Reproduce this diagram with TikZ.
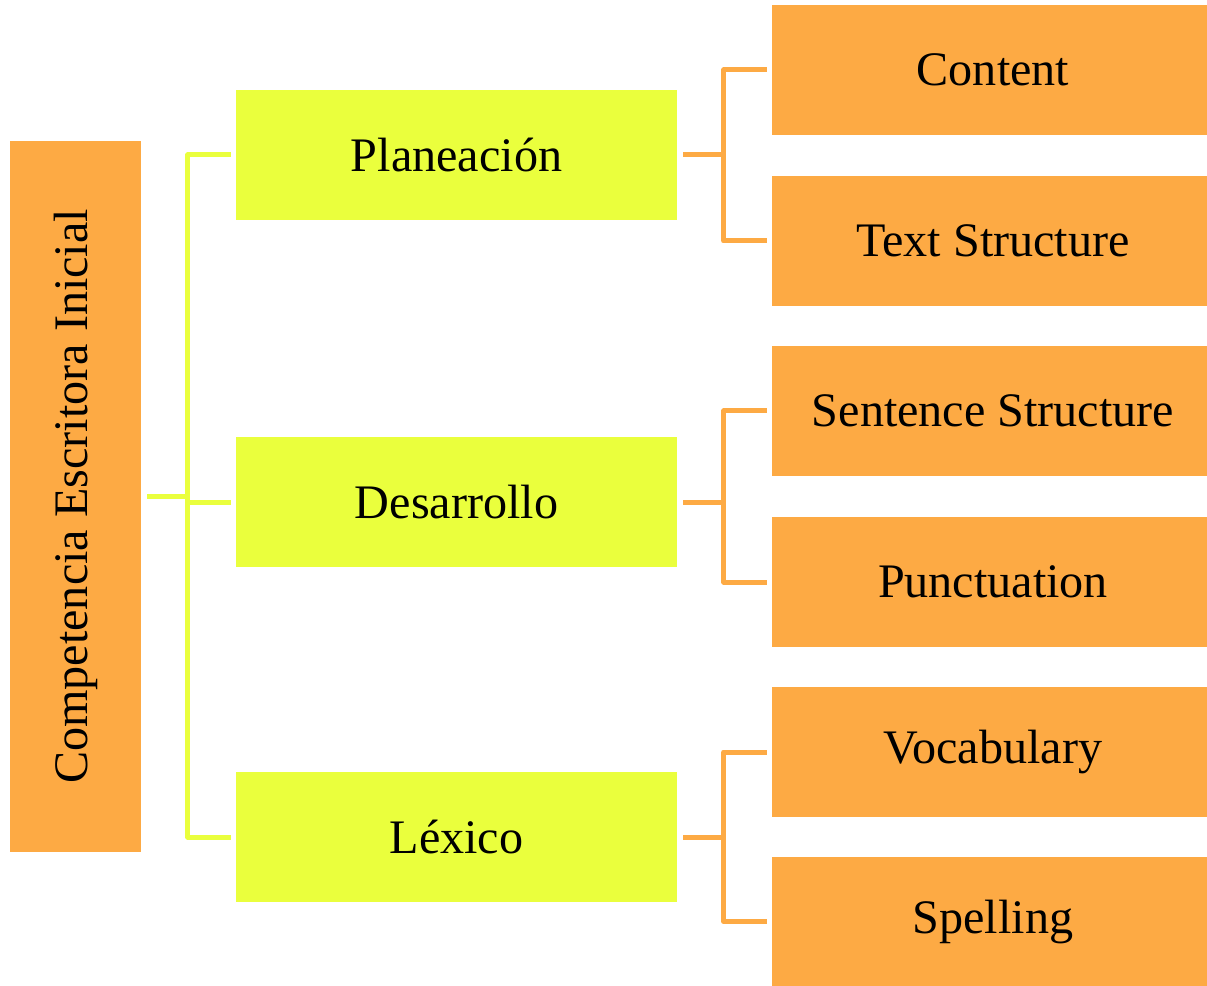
\documentclass[tikz,border=0pt]{standalone}
\usepackage{fontspec}
\setmainfont{Liberation Serif}
\usepackage{tikz}
\usetikzlibrary{positioning,calc}
\definecolor{boxorange}{RGB}{253,170,68}
\definecolor{boxyellow}{RGB}{234,255,61}

\begin{document}
\begin{tikzpicture}[x=0.02cm,y=-0.02cm,
    rootbox/.style={fill=boxorange, minimum width=14.22cm, minimum height=2.62cm, inner sep=0pt, rotate=90, font=\fontsize{27.4}{32}\selectfont},
    midbox/.style={fill=boxyellow, minimum width=8.82cm, minimum height=2.6cm, inner sep=0pt, font=\fontsize{27.4}{32}\selectfont},
    leafbox/.style={fill=boxorange, minimum width=8.7cm, minimum height=2.6cm, inner sep=0pt, font=\fontsize{27.4}{32}\selectfont},
    ylink/.style={draw=boxyellow, line width=0.1cm, line join=round},
    olink/.style={draw=boxorange, line width=0.1cm, line join=round}]
    \useasboundingbox (0,0) rectangle (1207,986);
    % left column
    \node[rootbox] (root) at (75.5,496.5) {Competencia Escritora Inicial};
    % middle column
    \node[midbox] (plan) at (456.5,155) {Planeación};
    \node[midbox] (des) at (456.5,502) {Desarrollo};
    \node[midbox] (lex) at (456.5,837) {Léxico};
    % right column
    \node[leafbox] (cont) at (989.5,70) {\hspace*{4pt}Content};
    \node[leafbox] (tstr) at (989.5,241) {\hspace*{4pt}Text Structure};
    \node[leafbox] (sstr) at (989.5,411) {\hspace*{4pt}Sentence Structure};
    \node[leafbox] (punc) at (989.5,582) {\hspace*{4pt}Punctuation};
    \node[leafbox] (voc) at (989.5,752) {\hspace*{4pt}Vocabulary};
    \node[leafbox] (spel) at (989.5,921.5) {\hspace*{4pt}Spelling};
    % yellow connectors
    \draw[ylink] ($(root.south)+(6,0)$) -- ++(41,0);
    \draw[ylink] ($(plan.west)+(-5,0)$) -| ($(lex.west)+(-48,0)$) -- ($(lex.west)+(-5,0)$);
    \draw[ylink] ($(des.west)+(-5,0)$) -- ++(-43,0);
    % orange connectors
    \draw[olink] ($(plan.east)+(6,0)$) -- ++(41,0);
    \draw[olink] ($(cont.west)+(-5,0)$) -| ($(tstr.west)+(-48,0)$) -- ($(tstr.west)+(-5,0)$);
    \draw[olink] ($(des.east)+(6,0)$) -- ++(41,0);
    \draw[olink] ($(sstr.west)+(-5,0)$) -| ($(punc.west)+(-48,0)$) -- ($(punc.west)+(-5,0)$);
    \draw[olink] ($(lex.east)+(6,0)$) -- ++(41,0);
    \draw[olink] ($(voc.west)+(-5,0)$) -| ($(spel.west)+(-48,0)$) -- ($(spel.west)+(-5,0)$);
\end{tikzpicture}
\end{document}
